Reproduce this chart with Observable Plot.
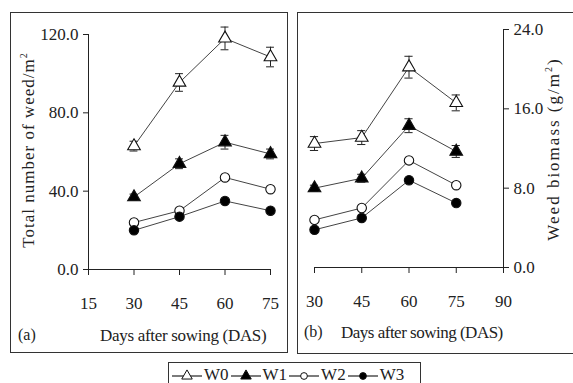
<!DOCTYPE html>
<html>
<head>
<meta charset="utf-8">
<script src="https://cdn.jsdelivr.net/npm/d3@7"></script>
<script src="https://cdn.jsdelivr.net/npm/@observablehq/plot@0.6"></script>
</head>
<body style="margin:0;padding:0;background:#fff;font-family:'Liberation Serif', serif;">
<div id="wrap" style="position:relative;width:573px;height:383px;overflow:hidden;color:#222;font-family:'Liberation Serif', serif;">
  <div style="position:absolute;border:1.5px solid #333;box-sizing:border-box;left:10px;top:12px;width:278px;height:341px;"></div>
  <div style="position:absolute;border:1.5px solid #333;box-sizing:border-box;left:297px;top:12px;width:290px;height:342px;"></div>
  <div id="plotA" style="position:absolute;left:10px;top:12px;"></div>
  <div id="plotB" style="position:absolute;left:297px;top:12px;"></div>
  <div style="position:absolute;white-space:nowrap;font-family:'Liberation Serif', serif;font-size:17px;line-height:1;letter-spacing:1px;left:28px;top:150px;transform:translate(-50%,-50%) rotate(-90deg);">Total number of weed/m<sup style="font-size:10px;vertical-align:7px;">2</sup></div>
  <div style="position:absolute;white-space:nowrap;font-family:'Liberation Serif', serif;font-size:17px;line-height:1;letter-spacing:2px;left:553px;top:149px;transform:translate(-50%,-50%) rotate(-90deg);">Weed biomass (g/m<sup style="font-size:10px;vertical-align:7px;">2</sup>)</div>
  <div style="position:absolute;white-space:nowrap;font-family:'Liberation Serif', serif;font-size:17px;line-height:1;left:100px;top:327px;letter-spacing:-0.3px;">Days after sowing (DAS)</div>
  <div style="position:absolute;white-space:nowrap;font-family:'Liberation Serif', serif;font-size:16px;line-height:1;left:18px;top:327px;">(a)</div>
  <div style="position:absolute;white-space:nowrap;font-family:'Liberation Serif', serif;font-size:17px;line-height:1;left:341px;top:324px;letter-spacing:-0.5px;">Days after sowing (DAS)</div>
  <div style="position:absolute;white-space:nowrap;font-family:'Liberation Serif', serif;font-size:16px;line-height:1;left:304px;top:324px;">(b)</div>
  <div id="legend" style="position:absolute;left:168px;top:362px;width:253px;height:25px;border:1.5px solid #333;box-sizing:border-box;display:flex;align-items:center;padding-left:3px;font-family:'Liberation Serif', serif;"></div>
</div>
<script>
// ---- data ----
const days = [30, 45, 60, 75];
const seriesNames = ["W0", "W1", "W2", "W3"];

// (a) Total number of weed / m2
const weedW0 = [63, 95.5, 118, 108.5];
const weedW1 = [37, 54, 65, 59];
const weedW2 = [24, 30, 47, 41];
const weedW3 = [20, 27, 35, 30];
const weedErrW0 = [2.5, 4.5, 5.8, 5];
const weedErrW1 = [1.5, 2.5, 3.5, 2.5];

// (b) Weed biomass g/m2
const bioW0 = [12.5, 13.1, 20.2, 16.6];
const bioW1 = [8.0, 9.0, 14.3, 11.7];
const bioW2 = [4.8, 6.0, 10.8, 8.3];
const bioW3 = [3.8, 5.0, 8.8, 6.5];
const bioErrW0 = [0.7, 0.7, 1.1, 0.8];
const bioErrW1 = [0.3, 0.4, 0.7, 0.6];

const xTicksA = [15, 30, 45, 60, 75];
const yTicksA = [0, 40, 80, 120];
const xTicksB = [30, 45, 60, 75, 90];
const yTicksB = [0, 8, 16, 24];

const seriesStyle = {
  W0: {symbol: "triangle", fill: "white"},
  W1: {symbol: "triangle", fill: "black"},
  W2: {symbol: "circle", fill: "white"},
  W3: {symbol: "circle", fill: "black"}
};

function rowsOf(lists) {
  const rows = [];
  seriesNames.forEach((s, i) => days.forEach((d, j) => rows.push({series: s, day: d, value: lists[i][j]})));
  return rows;
}
function errRowsOf(name, vals, errs) {
  return days.map((d, j) => ({series: name, day: d, lo: vals[j] - errs[j], hi: vals[j] + errs[j]}));
}

const fmt = d3.format(".1f");
const plotStyle = {fontFamily: "'Liberation Serif', serif", fontSize: "17px", color: "#222", background: "transparent", overflow: "visible"};

function seriesMarks(rows, errRows, capHalf) {
  const marks = [
    Plot.line(rows, {x: "day", y: "value", z: "series", stroke: "#444", strokeWidth: 1})
  ];
  marks.push(Plot.ruleX(errRows, {x: "day", y1: "lo", y2: "hi", stroke: "#222", strokeWidth: 1}));
  marks.push(Plot.ruleY(errRows, {y: "hi", x1: d => d.day - capHalf, x2: d => d.day + capHalf, stroke: "#222", strokeWidth: 1}));
  marks.push(Plot.ruleY(errRows, {y: "lo", x1: d => d.day - capHalf, x2: d => d.day + capHalf, stroke: "#222", strokeWidth: 1}));
  seriesNames.forEach(s => {
    const st = seriesStyle[s];
    marks.push(Plot.dot(rows.filter(r => r.series === s), {
      x: "day", y: "value", symbol: st.symbol, fill: st.fill, stroke: "#111", strokeWidth: 1.1, r: 4.7
    }));
  });
  return marks;
}

// ---- panel (a) ----
const rowsA = rowsOf([weedW0, weedW1, weedW2, weedW3]);
const errA = errRowsOf("W0", weedW0, weedErrW0).concat(errRowsOf("W1", weedW1, weedErrW1));
const plotA = Plot.plot({
  width: 277, height: 340,
  marginLeft: 78, marginRight: 17, marginTop: 22, marginBottom: 83,
  x: {domain: [15, 75]},
  y: {domain: [0, 120]},
  style: plotStyle,
  marks: [
    Plot.axisX({ticks: xTicksA, tickSize: 6, tickPadding: 21, label: null, tickFormat: d3.format("d")}),
    Plot.axisY({ticks: yTicksA, tickSize: 5, tickPadding: 5, label: null, tickFormat: fmt}),
    Plot.ruleY([0], {stroke: "#222", strokeWidth: 1}),
    Plot.ruleX([15], {stroke: "#222", strokeWidth: 1}),
    ...seriesMarks(rowsA, errA, 1.3)
  ]
});
document.getElementById("plotA").appendChild(plotA);

// ---- panel (b) ----
const rowsB = rowsOf([bioW0, bioW1, bioW2, bioW3]);
const errB = errRowsOf("W0", bioW0, bioErrW0).concat(errRowsOf("W1", bioW1, bioErrW1));
const plotB = Plot.plot({
  width: 276, height: 341,
  marginLeft: 17, marginRight: 70, marginTop: 17, marginBottom: 86,
  x: {domain: [30, 90]},
  y: {domain: [0, 24]},
  style: plotStyle,
  marks: [
    Plot.axisX({ticks: xTicksB, tickSize: 6, tickPadding: 21, label: null, tickFormat: d3.format("d")}),
    Plot.axisY({anchor: "right", ticks: yTicksB, tickSize: 5, tickPadding: 5, label: null, tickFormat: fmt}),
    Plot.ruleY([0], {stroke: "#222", strokeWidth: 1}),
    Plot.ruleX([90], {stroke: "#222", strokeWidth: 1}),
    ...seriesMarks(rowsB, errB, 1.3)
  ]
});
document.getElementById("plotB").appendChild(plotB);

// ---- legend ----
const legend = document.getElementById("legend");
seriesNames.forEach(s => {
  const st = seriesStyle[s];
  const item = document.createElement("div");
  item.style.cssText = "display:flex;align-items:center;margin-right:1px;font-size:17px;font-family:'Liberation Serif', serif;";
  const ns = "http://www.w3.org/2000/svg";
  const svg = document.createElementNS(ns, "svg");
  svg.setAttribute("width", "30");
  svg.setAttribute("height", "14");
  const line = document.createElementNS(ns, "line");
  line.setAttribute("x1", "0"); line.setAttribute("x2", "30");
  line.setAttribute("y1", "8"); line.setAttribute("y2", "8");
  line.setAttribute("stroke", "#222"); line.setAttribute("stroke-width", "1.2");
  svg.appendChild(line);
  const path = document.createElementNS(ns, "path");
  const size = st.symbol === "triangle" ? 48 : 36;
  path.setAttribute("d", d3.symbol(st.symbol === "triangle" ? d3.symbolTriangle : d3.symbolCircle, size)());
  path.setAttribute("transform", "translate(15,8)");
  path.setAttribute("fill", st.fill);
  path.setAttribute("stroke", "#111");
  path.setAttribute("stroke-width", "1");
  svg.appendChild(path);
  item.appendChild(svg);
  const label = document.createElement("span");
  label.textContent = s;
  label.style.cssText = "margin-left:2px;margin-right:1px;";
  item.appendChild(label);
  legend.appendChild(item);
});
</script>
</body>
</html>
